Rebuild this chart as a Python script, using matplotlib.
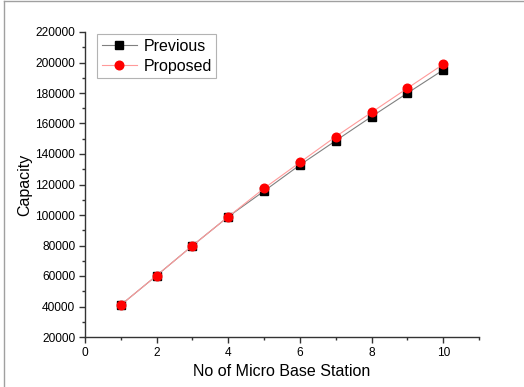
import matplotlib
matplotlib.use("Agg")
import matplotlib.pyplot as plt
from matplotlib.ticker import MultipleLocator
from matplotlib.lines import Line2D

plt.rcParams['font.family'] = ['Liberation Sans', 'DejaVu Sans']

stations = [1, 2, 3, 4, 5, 6, 7, 8, 9, 10]
previous = [41000, 60300, 79900, 98900, 115700, 132800, 148700, 164500, 179900, 195100]
proposed = [41000, 60300, 79900, 98900, 117500, 134500, 151400, 167300, 183100, 198800]

fig = plt.figure(figsize=(5.24, 3.87), dpi=100)
ax = fig.add_axes([85/524, 50/387, (479-85)/524, (337-32)/387])

ax.plot(stations, previous, color='#808080', lw=0.8, marker='s', ms=5.8,
        mfc='black', mec='black', label='Previous', zorder=2)
ax.plot(stations, proposed, color='#ff9a9a', lw=0.8, marker='o', ms=6.2,
        mfc='red', mec='red', label='Proposed', zorder=3)

ax.set_xlim(0, 11)
ax.set_ylim(20000, 220000)
ax.xaxis.set_major_locator(MultipleLocator(2))
ax.xaxis.set_minor_locator(MultipleLocator(1))
ax.yaxis.set_major_locator(MultipleLocator(20000))
ax.yaxis.set_minor_locator(MultipleLocator(10000))
ax.spines['top'].set_visible(False)
ax.spines['right'].set_visible(False)
for s in ('left', 'bottom'):
    ax.spines[s].set_color('#333333')
    ax.spines[s].set_linewidth(1.0)
ax.tick_params(which='major', direction='out', length=4.5, width=1, color='#333333', labelsize=8.6, pad=2.5)
ax.tick_params(which='minor', direction='out', length=2.2, width=1, color='#333333')

ax.set_xlabel('No of Micro Base Station', fontsize=11.5, labelpad=4)
ax.set_ylabel('Capacity', fontsize=11.5, labelpad=2)

leg = ax.legend(loc='upper left', bbox_to_anchor=(97/524, 1 - 34/387),
                bbox_transform=fig.transFigure, fontsize=11.5, frameon=True,
                fancybox=False, edgecolor='#a0a0a0', borderaxespad=0,
                handlelength=2.2, handletextpad=0.4, borderpad=0.3,
                labelspacing=0.3)
leg.get_frame().set_linewidth(0.8)

# outer frame (left and top edges visible)
fig.add_artist(Line2D([4/524, 4/524], [0, 1 - 1/387], transform=fig.transFigure,
                      color='#a0a0a0', lw=1))
fig.add_artist(Line2D([4/524, 1], [1 - 1/387, 1 - 1/387], transform=fig.transFigure,
                      color='#a0a0a0', lw=1))

fig.savefig('out.png', dpi=100)
